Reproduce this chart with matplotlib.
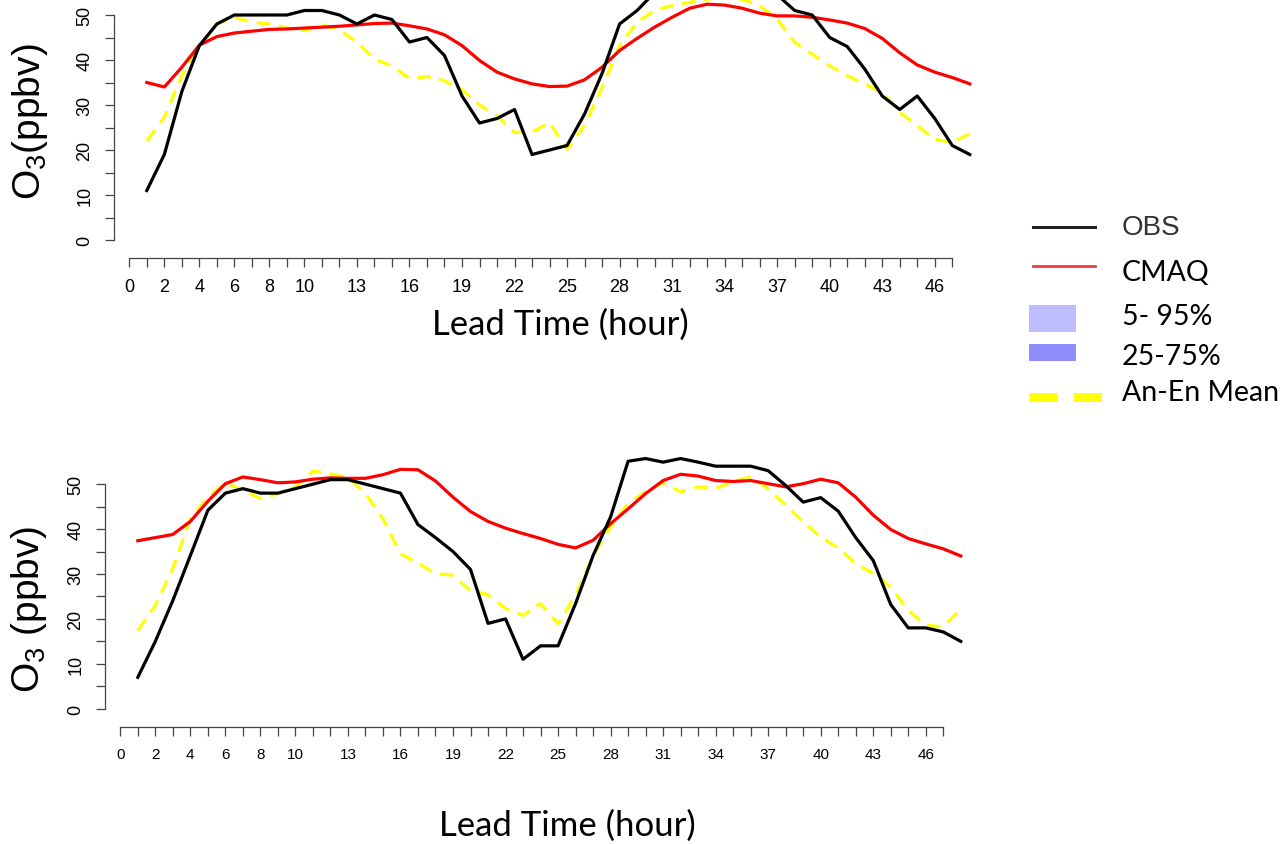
import matplotlib
matplotlib.use("Agg")
import matplotlib.pyplot as plt
from matplotlib.lines import Line2D
from matplotlib.patches import Rectangle

plt.rcParams["font.family"] = ["Liberation Sans", "DejaVu Sans"]
plt.rcParams["mathtext.fontset"] = "custom"
plt.rcParams["mathtext.rm"] = "Liberation Sans"
plt.rcParams["mathtext.it"] = "Liberation Sans:italic"

lead_hours = list(range(1, 49))
tick_positions = list(range(0, 48))
tick_labeled = [0, 2, 4, 6, 8, 10, 13, 16, 19, 22, 25, 28, 31, 34, 37, 40, 43, 46]

# panel 1
obs_top = [11, 19, 33, 43.2, 48, 50, 50, 50, 50, 51, 51, 50, 48, 50, 49, 44,
           45, 41, 32, 26, 27, 29, 19, 20, 21, 28, 37, 48, 51, 55, 57.5, 58,
           58, 58, 57.5, 57, 54.5, 51, 50, 45, 43, 38, 32, 29, 32, 27, 21, 19]
cmaq_top = [35, 34, 38.4, 43.3, 45.2, 46, 46.4, 46.8, 46.9, 47.1, 47.3, 47.5,
            47.8, 48.1, 48.2, 47.6, 46.9, 45.6, 43.2, 39.9, 37.3, 35.8, 34.7,
            34.1, 34.2, 35.6, 38.4, 42.1, 44.8, 47.3, 49.5, 51.5, 52.4, 52.2,
            51.5, 50.4, 49.8, 49.8, 49.5, 48.9, 48.2, 47, 44.8, 41.6, 38.9,
            37.3, 36.1, 34.7]
anen_top = [22, 27.3, 36.5, 43, 48, 49.5, 48.4, 48, 47.1, 46.5, 47.8, 46.7, 44,
            40.2, 38.7, 35.9, 36.3, 35.4, 33.4, 30, 27.6, 23.9, 24, 26.1, 20.2,
            25.4, 33.9, 43.2, 48.4, 51, 52.1, 52.8, 53.5, 53.8, 53.5, 52.1,
            49.1, 43.9, 41.3, 38.7, 36.5, 34.7, 32.8, 28.4, 25.4, 22.4, 21.7,
            23.6]

# panel 2
obs_bot = [7, 15, 24.1, 34.1, 44.2, 48, 49, 48, 48, 49, 50, 51, 51, 50, 49, 48,
           41, 38.1, 35, 31, 19, 20, 11, 14, 14, 23.4, 34.1, 42.7, 55.1, 55.7,
           54.9, 55.7, 54.9, 54, 54, 54, 53, 49.7, 46, 47, 44, 38.1, 33, 23.2,
           18, 18, 17.1, 15]
cmaq_bot = [37.4, 38.1, 38.8, 41.7, 46.2, 50.1, 51.6, 51, 50.3, 50.5, 51.1,
            51.4, 51.3, 51.3, 52.1, 53.3, 53.2, 50.7, 47.1, 43.9, 41.7, 40.2,
            39, 37.9, 36.6, 35.8, 37.5, 41.2, 44.5, 47.9, 50.8, 52.2, 51.8,
            50.8, 50.6, 50.8, 50.1, 49.4, 50.1, 51.1, 50.3, 47.1, 43.1, 39.9,
            37.9, 36.7, 35.6, 34]
anen_bot = [17.4, 23, 31.2, 42.3, 47.1, 50.3, 48.6, 46.8, 47.9, 49.4, 52.9,
            52.3, 51.4, 47.9, 42.3, 34.5, 32.4, 30.1, 29.7, 26.3, 25.4, 22.3,
            20.8, 23.4, 18.9, 25.2, 34.1, 40.5, 45.7, 48.3, 50.3, 48.3, 49.4,
            49, 50.6, 51.6, 49, 45.3, 41.6, 38.2, 35.8, 32.3, 30.1, 27.1, 21.9,
            18.6, 18.2, 22.3]

legend_labels = ["OBS", "CMAQ", "5- 95%", "25-75%", "An-En Mean"]

W, H = 1285, 845
fig = plt.figure(figsize=(W / 100, H / 100), dpi=100)


def px_axes(left, right, top, bottom):
    return fig.add_axes([left / W, 1 - bottom / H, (right - left) / W, (bottom - top) / H])


def style_panel(ax, xtick_size):
    ax.set_facecolor("none")
    ax.set_xlim(-0.88, 49.88)
    ax.set_ylim(-4, 104)
    for side in ("top", "right"):
        ax.spines[side].set_visible(False)
    for side in ("left", "bottom"):
        ax.spines[side].set_color("#444444")
        ax.spines[side].set_linewidth(0.9)
    ax.spines["left"].set_bounds(0, 50)
    ax.spines["bottom"].set_bounds(0, 47)
    ax.set_yticks(range(0, 55, 5))
    ax.set_yticklabels([str(v) if v % 10 == 0 else "" for v in range(0, 55, 5)],
                       rotation=90, va="center", fontsize=13)
    ax.set_xticks(tick_positions)
    ax.set_xticklabels([str(v) if v in tick_labeled else "" for v in tick_positions],
                       fontsize=xtick_size)
    ax.tick_params(direction="out", length=6.7, width=0.9, color="#444444", pad=8)


def draw_panel(ax, obs, cmaq, anen):
    ax.plot(lead_hours, anen, color="#FFFF00", lw=2.3, dashes=(4.3, 2.7), zorder=2)
    ax.plot(lead_hours, cmaq, color="#FF0000", lw=2.3, zorder=3)
    ax.plot(lead_hours, obs, color="black", lw=2.3, zorder=4)


ax1 = px_axes(113.9, 1002.7, -227, 259)
style_panel(ax1, 13)
draw_panel(ax1, obs_top, cmaq_top, anen_top)

ax2 = px_axes(104.9, 993.7, 242.6, 727.7)
style_panel(ax2, 11)
draw_panel(ax2, obs_bot, cmaq_bot, anen_bot)

# overlay in pixel coordinates for labels and legend
ov = fig.add_axes([0, 0, 1, 1])
ov.set_xlim(0, W)
ov.set_ylim(H, 0)
ov.axis("off")
ov.set_facecolor("none")

ov.text(30, 122, r"$\mathrm{O_3(ppbv)}$", rotation=90, ha="center", va="center", fontsize=28)
ov.text(29, 609, r"$\mathrm{O_3\ (ppbv)}$", rotation=90, ha="center", va="center", fontsize=28)
ov.text(560, 325, "Lead Time (hour)", ha="center", va="center", fontsize=25, family="Lato")
ov.text(567, 826, "Lead Time (hour)", ha="center", va="center", fontsize=25, family="Lato")

ov.add_line(Line2D([1033, 1095], [228, 228], color="#222222", lw=2.2))
ov.add_line(Line2D([1033, 1095], [267, 267], color="#F03C3C", lw=2.0))
ov.add_patch(Rectangle((1029, 306), 47, 27, color="#BCBCFF", lw=0))
ov.add_patch(Rectangle((1029, 345), 47, 17, color="#8E8EFF", lw=0))
ov.add_line(Line2D([1029, 1113], [398, 398], color="#FFFF00", lw=6.5, dashes=(3.1, 1.8)))

ov.text(1122, 228, legend_labels[0], ha="left", va="center", fontsize=20, color="#333333")
ov.text(1122, 273, legend_labels[1], ha="left", va="center", fontsize=20.5, family="Lato")
ov.text(1122, 317, legend_labels[2], ha="left", va="center", fontsize=20.5, family="Lato")
ov.text(1122, 357, legend_labels[3], ha="left", va="center", fontsize=20.5, family="Lato")
ov.text(1122, 393, legend_labels[4], ha="left", va="center", fontsize=20.5, family="Lato")

fig.savefig("out.png", dpi=100)
